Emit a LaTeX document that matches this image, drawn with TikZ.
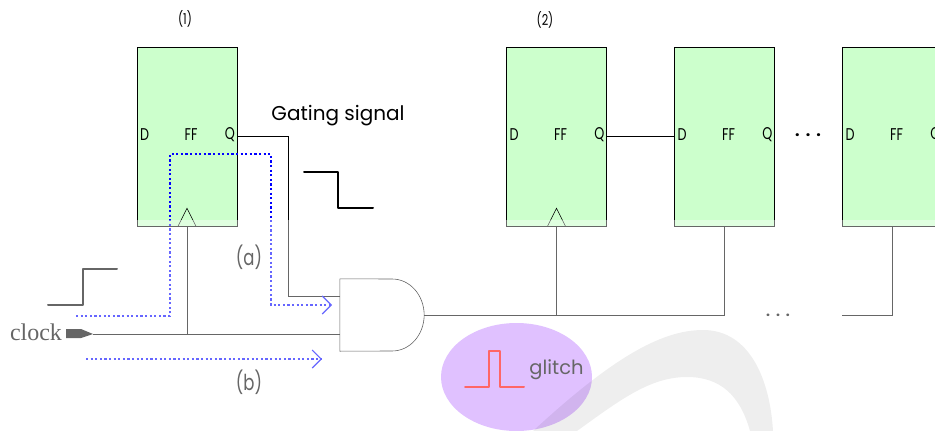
\documentclass[tikz,border=0pt]{standalone}
\usepackage{fontspec}
\usepackage{xcolor}
\setmainfont{Poppins}
\newfontfamily\clockfont{Liberation Serif}
\newfontfamily\narrowfont[FakeStretch=0.75]{Poppins}
\usetikzlibrary{shapes.geometric, arrows.meta, positioning, calc}
\definecolor{ffgreen}{HTML}{CCFFCC}
\definecolor{glitchpurple}{HTML}{CC99FF}
\tikzstyle{ffbox} = [rectangle, minimum width=100pt, minimum height=179pt, inner sep=0pt,
                     draw=black, fill=ffgreen, line width=0.6pt]
\tikzstyle{pin} = [font=\narrowfont\fontsize{17}{17}\selectfont, inner sep=0pt]
\tikzstyle{number} = [font=\narrowfont\fontsize{15}{15}\selectfont, inner sep=0pt]
\tikzstyle{route} = [font=\narrowfont\fontsize{22}{22}\selectfont, inner sep=0pt]
\tikzstyle{wire} = [line width=0.6pt]
\tikzstyle{wave} = [line width=2pt, line cap=round, line join=round]
\tikzstyle{sigpath} = [blue, line width=1.2pt, dash pattern=on 2.2pt off 2.4pt]
\tikzstyle{patharrow} = [sigpath, -{Straight Barb[length=9pt,width=18pt,line width=1.1pt]}]
\newcommand{\widedots}{.\hspace{6pt}.\hspace{6pt}.}
\begin{document}
\begin{tikzpicture}[x=1pt, y=-1pt]
    \clip (0,0) rectangle (935,431);

    % Flip-flops
    \foreach \n/\x in {1/187, 2/556.5, 3/724.5, 4/892.5} {
        \node[ffbox] (ff\n) at (\x,136.5) {};
        \node[pin] (d\n) at ($(ff\n.west)+(8,-2)$) {D};
        \node[pin] (name\n) at ($(ff\n.center)+(4,-2)$) {FF};
        \node[pin] (q\n) at ($(ff\n.east)+(-7.5,-2)$) {Q};
    }
    \node[number] (one) at (185,19) {(1)};
    \node[number] (two) at (545,20) {(2)};
    \node[font=\bfseries\fontsize{16}{16}\selectfont] (topdots) at (808,135) {\widedots};

    % Gate and clock
    \node[minimum width=84pt, minimum height=72pt, inner sep=0pt] (gate) at (382,315) {};
    \draw[wire] (gate.north west) -- (392,279) .. controls (410,279) and (424,295) .. (gate.east)
        .. controls (424,335) and (410,351) .. (392,351) -- (gate.south west) -- cycle;
    \node[font=\clockfont\fontsize{24}{24}\selectfont, inner sep=0pt] (clock) at (36,332) {clock};
    \fill (66,329) -- (81,329) -- (93,334) -- (81,338) -- (66,338) -- cycle;
    \coordinate (clkpin) at (93,334);
    \coordinate (in1) at (340,296);
    \coordinate (in2) at (340,334);
    \coordinate (clk1) at (ff1.south |- in2);
    \coordinate (out2) at (ff2.south |- gate.east);
    \coordinate (out3) at (ff3.south |- gate.east);
    \coordinate (out4) at (ff4.south |- gate.east);
    \coordinate (far) at (842,315);
    \node[font=\bfseries\fontsize{14}{14}\selectfont] (lowdots) at (778,315) {\widedots};

    % Wires
    \draw[wire] (clkpin) -- (in2);
    \draw[wire] (clk1) -- (ff1.south);
    \draw[wire] (ff1.east |- 0,136) -- (288,136) |- (in1);
    \draw[wire] (gate.east) -- (out3) -- (ff3.south);
    \draw[wire] (out2) -- (ff2.south);
    \draw[wire] (far) -- (out4) -- (ff4.south);
    \draw[wire] (ff2.east |- 0,136) -- (ff3.west |- 0,136);

    % Clock triangles
    \draw[wire] ($(ff1.south)+(-9,0)$) -- ($(ff1.south)+(0,-18)$) -- ($(ff1.south)+(9,0)$);
    \draw[wire] ($(ff2.south)+(-9,0)$) -- ($(ff2.south)+(0,-18)$) -- ($(ff2.south)+(9,0)$);

    % Blue paths
    \coordinate (pa) at (76,316);
    \coordinate (pb) at (332,305);
    \coordinate (qa) at (86,359);
    \coordinate (qb) at (322,359);
    \draw[patharrow] (pa) -- (170,316) -- (170,154) -- (271,154) -- (271,305) -- (pb);
    \draw[patharrow] (qa) -- (qb);
    \node[route] (a) at (249,257) {(a)};
    \node[route] (b) at (249,382) {(b)};

    % Signal shapes
    \draw[wave] (48,305) -- (83,305) -- (83,269) -- (117,269);
    \draw[wave] (304,172) -- (338,172) -- (338,208) -- (373,208);
    \node[font=\fontsize{20}{20}\selectfont, inner sep=0pt] (gating) at (338,116) {Gating signal};

    % Glitch
    \node[ellipse, fill=glitchpurple, minimum width=151pt, minimum height=108pt, inner sep=0pt] (bubble) at (516.5,377) {};
    \draw[wave, red] (465,387) -- (489,387) -- (489,351) -- (500,351) -- (500,387) -- (524,387);
    \node[font=\fontsize{19.5}{19.5}\selectfont, inner sep=0pt] (glitch) at (556.5,370) {glitch};

    % Lower part is washed out
    \fill[white, opacity=0.4] (0,220) rectangle (935,431);
    \fill[black, opacity=0.065] (533,431) .. controls (610,360) and (660,330) .. (703,330)
        .. controls (750,330) and (770,380) .. (773,431) -- (750,431)
        .. controls (740,395) and (720,377) .. (687,377)
        .. controls (650,377) and (620,400) .. (577,431) -- cycle;
\end{tikzpicture}
\end{document}
